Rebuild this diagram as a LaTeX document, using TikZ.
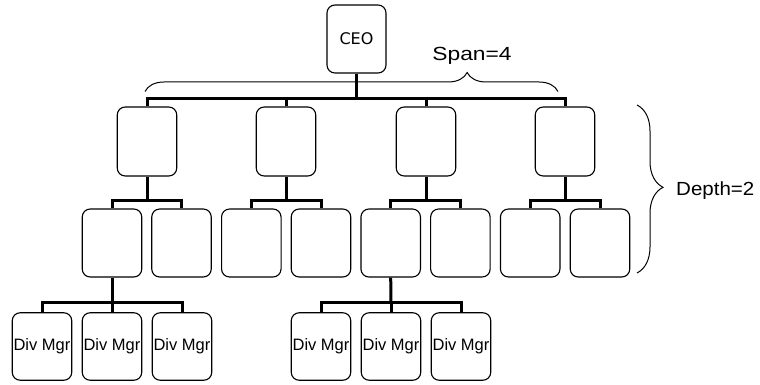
\documentclass[tikz,border=0pt]{standalone}
\usepackage{fontspec}
\setmainfont{Liberation Sans}
\newfontfamily\ceofont{DejaVu Sans}
\usetikzlibrary{decorations.pathreplacing}
\begin{document}
\begin{tikzpicture}[x=1pt,y=-1pt,
  box/.style={draw=black,line width=1.1pt,rounded corners=8pt,inner sep=0pt,
    minimum width=59.5pt,minimum height=68pt,fill=white},
  conn/.style={draw=black,line width=3pt,line join=miter,line cap=butt},
  bracestyle/.style={draw=black,line width=1pt,decorate},
  lbl/.style={inner sep=0pt,font=\fontsize{19}{21}\selectfont}
]
\useasboundingbox (0,0) rectangle (760,385);
% nodes
\node[box,minimum width=59pt] (ceo) at (356.5,39) {\ceofont\fontsize{16}{18}\selectfont CEO};
\node[box,minimum height=69pt] (a) at (147,141.5) {};
\node[box,minimum height=69pt] (b) at (286,141.5) {};
\node[box,minimum height=69pt] (c) at (426,141.5) {};
\node[box,minimum height=69pt] (d) at (565,141.5) {};
\node[box] (a1) at (112,243) {};
\node[box] (a2) at (181.5,243) {};
\node[box] (b1) at (251.3,243) {};
\node[box] (b2) at (321,243) {};
\node[box] (c1) at (390.7,243) {};
\node[box] (c2) at (460.4,243) {};
\node[box] (d1) at (530.2,243) {};
\node[box] (d2) at (600,243) {};
\foreach \n/\x in {m1/42,m2/112,m3/182,m4/321,m5/391,m6/461}{
  \node[box,minimum width=59.5pt,minimum height=67.5pt,font=\fontsize{16.5}{18}\selectfont] (\n) at (\x,346.5) {Div Mgr};
}
% connectors
\coordinate (bus0) at (356.5,99);
\draw[conn] (ceo.south) -- (bus0);
\draw[conn] (a.north) |- (bus0) -| (d.north);
\draw[conn] (b.north) -- (b.north |- bus0);
\draw[conn] (c.north) -- (c.north |- bus0);
\foreach \p/\l/\r in {a/a1/a2,b/b1/b2,c/c1/c2,d/d1/d2}{
  \coordinate (bus\p) at (\p.south |- 0,200);
  \draw[conn] (\p.south) -- (bus\p);
  \draw[conn] (\l.north) |- (bus\p) -| (\r.north);
}
\coordinate (busA) at (112,302.5);
\draw[conn] (a1.south) -- (busA);
\draw[conn] (m1.north) |- (busA) -| (m3.north);
\draw[conn] (m2.north) -- (busA);
\coordinate (busC) at (391,302.5);
\draw[conn] (c1.south) -- (busC);
\draw[conn] (m4.north) |- (busC) -| (m6.north);
\draw[conn] (m5.north) -- (busC);
% braces
\coordinate (sb1) at (145,91.5);
\coordinate (sb2) at (558,91.5);
\draw[bracestyle,decoration={brace,amplitude=19pt,aspect=0.78}] (sb1) -- (sb2);
\node[lbl,xscale=1.2] (span) at (472,56) {Span=4};
\coordinate (db1) at (637,105);
\coordinate (db2) at (637,273);
\draw[bracestyle,decoration={brace,amplitude=26pt,aspect=0.49}] (db1) -- (db2);
\node[lbl,xscale=1.08,anchor=west] (depth) at (676,191) {Depth=2};
\end{tikzpicture}
\end{document}
